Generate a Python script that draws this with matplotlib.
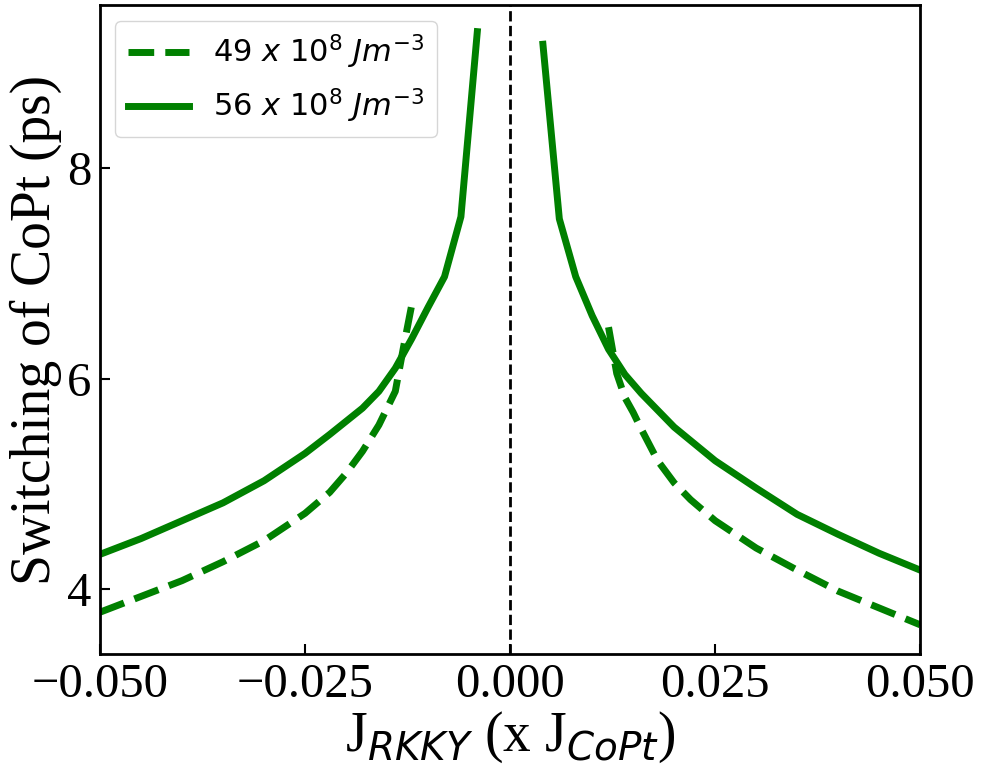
import numpy as np
import matplotlib
matplotlib.use("Agg")
from matplotlib import pyplot as plt
from matplotlib.ticker import MultipleLocator, FuncFormatter

# 56 x 10^8 Jm^-3 (solid)
j_solid_neg = [-0.050, -0.045, -0.040, -0.035, -0.030, -0.025, -0.022, -0.018, -0.016, -0.014, -0.012, -0.010, -0.008, -0.006, -0.004]
t_solid_neg = [4.33, 4.48, 4.65, 4.82, 5.03, 5.29, 5.47, 5.72, 5.88, 6.10, 6.38, 6.68, 6.97, 7.54, 9.30]
j_solid_pos = [0.004, 0.006, 0.008, 0.010, 0.012, 0.014, 0.016, 0.018, 0.020, 0.025, 0.030, 0.035, 0.040, 0.045, 0.050]
t_solid_pos = [9.18, 7.52, 6.97, 6.60, 6.28, 6.04, 5.86, 5.70, 5.54, 5.22, 4.96, 4.71, 4.52, 4.34, 4.18]

# 49 x 10^8 Jm^-3 (dashed)
j_dash_neg = [-0.050, -0.045, -0.040, -0.035, -0.030, -0.025, -0.022, -0.020, -0.018, -0.016, -0.014, -0.013, -0.012]
t_dash_neg = [3.78, 3.93, 4.08, 4.26, 4.46, 4.72, 4.92, 5.10, 5.31, 5.56, 5.88, 6.30, 6.70]
j_dash_pos = [0.012, 0.013, 0.014, 0.015, 0.016, 0.018, 0.020, 0.022, 0.025, 0.030, 0.035, 0.040, 0.045, 0.050]
t_dash_pos = [6.49, 6.05, 5.82, 5.68, 5.52, 5.22, 5.01, 4.85, 4.65, 4.39, 4.18, 3.98, 3.82, 3.66]

labels = [r'49 $x\ 10^8\ Jm^{-3}$', r'56 $x\ 10^8\ Jm^{-3}$']
xticks = [-0.050, -0.025, 0.000, 0.025, 0.050]

serif = ['Liberation Serif', 'DejaVu Serif']

fig = plt.figure(figsize=(9.81, 7.67), dpi=100)
ax = fig.add_axes([0.102, 0.147, 0.836, 0.846])

# one line per series, nan splits the two branches
x_d = j_dash_neg + [np.nan] + j_dash_pos
y_d = t_dash_neg + [np.nan] + t_dash_pos
x_s = j_solid_neg + [np.nan] + j_solid_pos
y_s = t_solid_neg + [np.nan] + t_solid_pos

ax.plot(x_d, y_d, color='g', ls='--', lw=5, label=labels[0])
ax.plot(x_s, y_s, color='g', ls='-', lw=5, label=labels[1])
ax.axvline(0, color='k', ls='--', lw=2)

ax.set_xlim(-0.05, 0.05)
ax.set_ylim(3.38, 9.55)
ax.set_xticks(xticks)
ax.xaxis.set_major_formatter(FuncFormatter(lambda v, p: ('%.3f' % v).replace('-', '\u2212')))
ax.yaxis.set_major_locator(MultipleLocator(2))
ax.tick_params(direction='in', length=7, width=1.5, labelsize=35, pad=6)
for lab in ax.get_xticklabels() + ax.get_yticklabels():
    lab.set_family(serif)
for sp in ax.spines.values():
    sp.set_linewidth(2)

ax.set_xlabel(r'J$_{RKKY}$ (x J$_{CoPt}$)', fontsize=40, family=serif, labelpad=2)
ax.set_ylabel('Switching of CoPt (ps)', fontsize=40, family=serif, labelpad=4)

ax.legend(loc='upper left', fontsize=22)

fig.savefig('out.png', dpi=100)
